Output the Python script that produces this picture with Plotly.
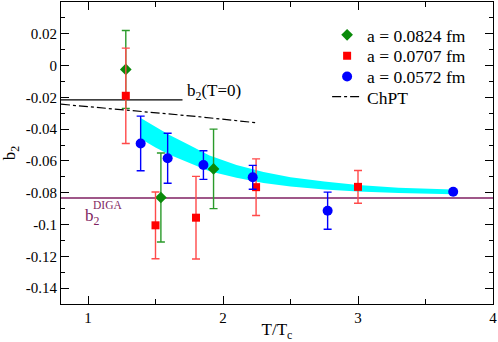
import plotly.graph_objects as go

# a = 0.0824 fm (green diamonds)
green_x = [1.28, 1.54, 1.93]
green_y = [-0.0024, -0.083, -0.065]
green_err = [0.0245, 0.028, 0.025]

# a = 0.0707 fm (red squares)
red_x = [1.28, 1.50, 1.80, 2.245, 3.0]
red_y = [-0.019, -0.1005, -0.0957, -0.0765, -0.0763]
red_err = [0.030, 0.021, 0.026, 0.0178, 0.0103]

# a = 0.0572 fm (blue circles)
blue_x = [1.39, 1.59, 1.855, 2.22, 2.775, 3.705]
blue_y = [-0.049, -0.0583, -0.0626, -0.0703, -0.0913, -0.0794]
blue_err = [0.0172, 0.0157, 0.009, 0.0075, 0.0117, 0.0]

# cyan band
band_x = [1.39, 1.5, 1.6, 1.75, 1.9, 2.1, 2.3, 2.5, 2.75, 3.0, 3.3, 3.7]
band_hi = [-0.033, -0.0385, -0.0435, -0.050, -0.0565, -0.0625, -0.067, -0.0703, -0.073, -0.0752, -0.0768, -0.0779]
band_lo = [-0.046, -0.0515, -0.056, -0.0615, -0.0665, -0.0705, -0.0738, -0.076, -0.078, -0.0793, -0.0802, -0.081]

# ChPT curve
chpt_x = [0.8, 1.3, 1.8, 2.25]
chpt_y = [-0.0243, -0.028, -0.032, -0.036]

b2_t0 = -0.0216
b2_diga = -0.0833

y_ticks = [0.02, 0, -0.02, -0.04, -0.06, -0.08, -0.1, -0.12, -0.14]
y_labels = ["0.02", "0", "-0.02", "-0.04", "-0.06", "-0.08", "-0.1", "-0.12", "-0.14"]
x_ticks = [1, 2, 3, 4]

FONT = "Liberation Serif"
PURPLE = "#7f1f62"

fig = go.Figure()

fig.add_trace(go.Scatter(
    x=band_x + band_x[::-1], y=band_hi + band_lo[::-1],
    fill="toself", fillcolor="#00ffff", mode="lines",
    line=dict(width=0, color="#00ffff"), showlegend=False, hoverinfo="skip"))

fig.add_trace(go.Scatter(
    x=[0.8, 1.7], y=[b2_t0, b2_t0], mode="lines",
    line=dict(color="black", width=1.3), showlegend=False))

fig.add_trace(go.Scatter(
    x=[0.8, 4.0], y=[b2_diga, b2_diga], mode="lines",
    line=dict(color=PURPLE, width=1.3), showlegend=False))

fig.add_trace(go.Scatter(
    x=chpt_x, y=chpt_y, mode="lines", name="ChPT", legend="legend4",
    line=dict(color="black", width=1.2, dash="dashdot")))

fig.add_trace(go.Scatter(
    x=green_x, y=green_y, mode="markers", name="a = 0.0824 fm", legend="legend",
    marker=dict(symbol="diamond", size=9, color="#0a8a0a"),
    error_y=dict(type="data", array=green_err, color="#2a9a2a", thickness=1.4, width=4)))

fig.add_trace(go.Scatter(
    x=red_x, y=red_y, mode="markers", name="a = 0.0707 fm", legend="legend2",
    marker=dict(symbol="square", size=8, color="#ff0000"),
    error_y=dict(type="data", array=red_err, color="#ff4a4a", thickness=1.4, width=4)))

fig.add_trace(go.Scatter(
    x=blue_x, y=blue_y, mode="markers", name="a = 0.0572 fm", legend="legend3",
    marker=dict(symbol="circle", size=10, color="#0000ff"),
    error_y=dict(type="data", array=blue_err, color="#0000ff", thickness=1.4, width=4)))

fig.add_annotation(x=1.722, y=-0.0168, text="b<sub>2</sub>(T=0)", showarrow=False,
                   xanchor="left", yanchor="middle", font=dict(family=FONT, size=17, color="black"))
fig.add_annotation(x=0.962, y=-0.0952, text="b<sub>2</sub>", showarrow=False,
                   xanchor="left", yanchor="middle", font=dict(family=FONT, size=17, color=PURPLE))
fig.add_annotation(x=1.025, y=-0.0879, text="DIGA", showarrow=False,
                   xanchor="left", yanchor="middle", font=dict(family=FONT, size=11.5, color=PURPLE))

axis_common = dict(
    showline=True, linecolor="black", linewidth=1.2, mirror="ticks",
    ticks="inside", ticklen=8, tickcolor="black", tickwidth=1,
    showgrid=False, zeroline=False, automargin=False,
    tickfont=dict(family=FONT, size=15, color="black"),
)

fig.update_xaxes(
    range=[0.8, 4.0], tickvals=x_ticks,
    minor=dict(dtick=0.5, ticks="inside", ticklen=5, tickcolor="black", showgrid=False),
    title=dict(text="T/T<sub>c</sub>", font=dict(family=FONT, size=17, color="black")),
    **axis_common)
fig.update_yaxes(
    range=[-0.15, 0.04], tickvals=y_ticks, ticktext=y_labels,
    minor=dict(dtick=0.01, ticks="inside", ticklen=4, tickcolor="black", showgrid=False),
    title=dict(text="b<sub>2</sub>", font=dict(family=FONT, size=17, color="black")),
    **axis_common)


def legend_row(y):
    return dict(x=0.616, y=y, xanchor="left", yanchor="middle",
                font=dict(family=FONT, size=17.5, color="black"),
                bgcolor="rgba(0,0,0,0)", itemwidth=30)


fig.update_layout(
    width=498, height=342,
    margin=dict(l=61, r=5, t=2, b=38),
    plot_bgcolor="white", paper_bgcolor="white",
    legend=legend_row(0.891),
    legend2=legend_row(0.822),
    legend3=legend_row(0.753),
    legend4=legend_row(0.686),
    showlegend=True,
)

fig.write_html("out.html", config={"displayModeBar": False},
               post_script="document.body.style.margin='0';")
